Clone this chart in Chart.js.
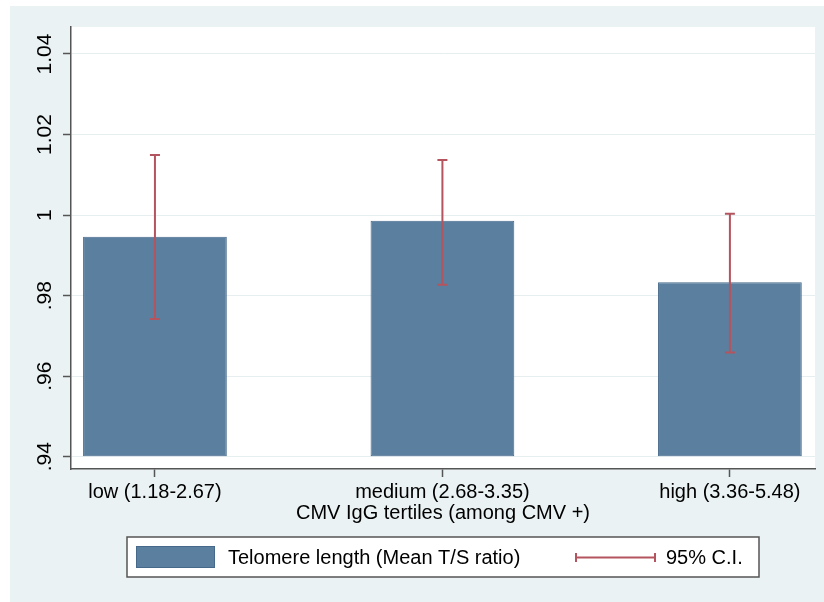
<!DOCTYPE html>
<html>
<head>
<meta charset="utf-8">
<script src="https://cdn.jsdelivr.net/npm/chart.js@4.4.1/dist/chart.umd.min.js"></script>
<style>
  html, body { margin: 0; padding: 0; background: #fff; }
  #wrap { width: 824px; height: 602px; }
</style>
</head>
<body>
<div id="wrap"><canvas id="chart" width="824" height="602"></canvas></div>
<script>
// data
const categories = ['low (1.18-2.67)', 'medium (2.68-3.35)', 'high (3.36-5.48)'];
const meanTS = [0.9946, 0.9986, 0.9833];
const ciLow = [0.9742, 0.9827, 0.9659];
const ciHigh = [1.0149, 1.0137, 1.0003];
const yTicks = [0.94, 0.96, 0.98, 1, 1.02, 1.04];
const yTickLabels = ['.94', '.96', '.98', '1', '1.02', '1.04'];
const xTitle = 'CMV IgG tertiles (among CMV +)';
const barLabel = 'Telomere length (Mean T/S ratio)';
const ciLabel = '95% C.I.';

const FONT = '"Liberation Sans", Arial, Helvetica, sans-serif';
const BG = '#eaf2f3';
const BAR = '#5a7f9f';
const BAR_EDGE = '#46698b';
const CI = '#b4545e';
const AXIS = '#555';

/* =========================
   BACKGROUND (stata style)
========================= */
const bgPlugin = {
  id: 'bg',
  beforeDraw(chart) {
    const { ctx, chartArea: a } = chart;
    ctx.save();
    ctx.fillStyle = '#fff';
    ctx.fillRect(0, 0, chart.width, chart.height);
    ctx.fillStyle = BG;
    ctx.fillRect(10, 6, chart.width - 10, chart.height - 6);
    ctx.fillStyle = '#fff';
    ctx.fillRect(a.left, a.top, a.right - a.left, a.bottom - a.top);
    ctx.restore();
  }
};

/* =========================
   Y LABELS (rotated)
========================= */
const yLabelPlugin = {
  id: 'ylabels',
  afterDraw(chart) {
    const { ctx } = chart;
    const y = chart.scales.y;
    ctx.save();
    ctx.fillStyle = '#000';
    ctx.font = '21px ' + FONT;
    ctx.textAlign = 'center';
    ctx.textBaseline = 'middle';
    yTicks.forEach((v, i) => {
      ctx.save();
      ctx.translate(45, y.getPixelForValue(v));
      ctx.rotate(-Math.PI / 2);
      ctx.fillText(yTickLabels[i], 0, 0);
      ctx.restore();
    });
    ctx.restore();
  }
};

/* =========================
   ERROR BARS (95% CI)
========================= */
const ciPlugin = {
  id: 'ci',
  afterDatasetsDraw(chart) {
    const { ctx } = chart;
    const xs = chart.scales.x, ys = chart.scales.y;
    ctx.save();
    ctx.strokeStyle = CI;
    ctx.lineWidth = 2;
    categories.forEach((_, i) => {
      const x = xs.getPixelForValue(i + 1);
      const top = ys.getPixelForValue(ciHigh[i]);
      const bot = ys.getPixelForValue(ciLow[i]);
      ctx.beginPath();
      ctx.moveTo(x, top); ctx.lineTo(x, bot);
      ctx.moveTo(x - 5, top); ctx.lineTo(x + 5, top);
      ctx.moveTo(x - 5, bot); ctx.lineTo(x + 5, bot);
      ctx.stroke();
    });
    ctx.restore();
  }
};

/* =========================
   LEGEND (boxed, bottom)
========================= */
const legendPlugin = {
  id: 'boxlegend',
  afterDraw(chart) {
    const { ctx } = chart;
    ctx.save();
    ctx.fillStyle = '#fff';
    ctx.fillRect(127, 537, 632, 40);
    ctx.strokeStyle = AXIS;
    ctx.lineWidth = 1.5;
    ctx.strokeRect(127, 537, 632, 40);

    ctx.fillStyle = BAR;
    ctx.fillRect(136, 546, 79, 22);
    ctx.strokeStyle = BAR_EDGE;
    ctx.lineWidth = 1;
    ctx.strokeRect(136.5, 546.5, 78, 21);

    ctx.strokeStyle = CI;
    ctx.lineWidth = 2;
    ctx.beginPath();
    ctx.moveTo(576, 557.5); ctx.lineTo(655, 557.5);
    ctx.moveTo(576, 553); ctx.lineTo(576, 562);
    ctx.moveTo(655, 553); ctx.lineTo(655, 562);
    ctx.stroke();

    ctx.fillStyle = '#000';
    ctx.font = '20px ' + FONT;
    ctx.textAlign = 'left';
    ctx.textBaseline = 'middle';
    ctx.fillText(barLabel, 228, 558);
    ctx.fillText(ciLabel, 666, 558);
    ctx.restore();
  }
};

new Chart(document.getElementById('chart'), {
  type: 'bar',
  data: {
    datasets: [{
      label: barLabel,
      data: meanTS.map((v, i) => ({ x: i + 1, y: v })),
      base: 0.94,
      backgroundColor: BAR,
      borderColor: BAR_EDGE,
      borderWidth: 1,
      borderSkipped: false,
      categoryPercentage: 1,
      barPercentage: 0.5
    }]
  },
  options: {
    responsive: false,
    animation: false,
    layout: { padding: { left: 0, right: 9, top: 27, bottom: 77 } },
    plugins: { legend: { display: false }, tooltip: { enabled: false } },
    scales: {
      x: {
        type: 'linear',
        offset: false,
        min: 0.708,
        max: 3.296,
        afterBuildTicks: (s) => { s.ticks = categories.map((_, i) => ({ value: i + 1 })); },
        afterFit: (s) => { s.height = 56; },
        ticks: {
          callback: (v) => categories[v - 1],
          color: '#000',
          font: { family: FONT, size: 20 },
          padding: 3,
          maxRotation: 0,
          autoSkip: false
        },
        grid: { offset: false, drawOnChartArea: false, tickLength: 8, tickColor: AXIS, tickWidth: 1.5 },
        border: { color: AXIS, width: 1.5 },
        title: {
          display: true,
          text: xTitle,
          color: '#000',
          font: { family: FONT, size: 20 },
          padding: 0
        }
      },
      y: {
        min: 0.93695,
        max: 1.0467,
        afterBuildTicks: (s) => { s.ticks = yTicks.map(v => ({ value: v })); },
        afterFit: (s) => { s.width = 71; },
        ticks: { display: false },
        grid: { color: '#e6eef0', lineWidth: 1, tickLength: 8, tickColor: AXIS, tickWidth: 1.5 },
        border: { color: AXIS, width: 1.5 }
      }
    }
  },
  plugins: [bgPlugin, yLabelPlugin, ciPlugin, legendPlugin]
});
</script>
</body>
</html>
